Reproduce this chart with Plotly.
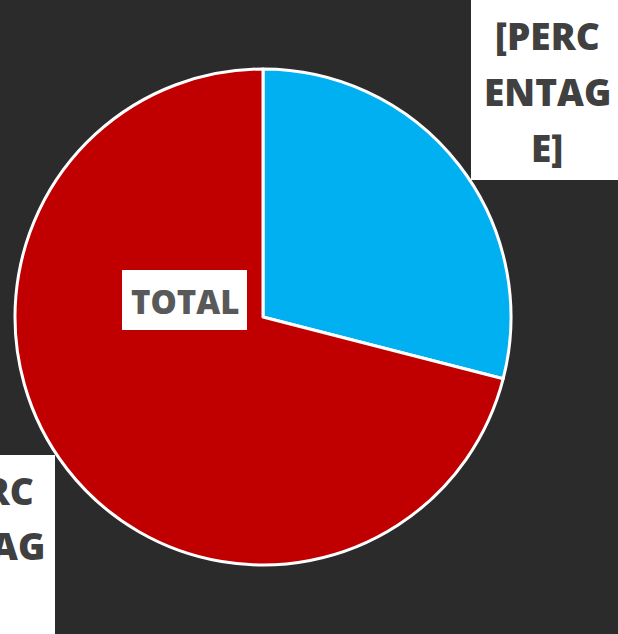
import plotly.graph_objects as go

W, H = 618, 634

categories = ["Blue", "Red"]
values = [29, 71]
colors = ["#00B0F0", "#C00000"]
label_lines = ["[PERC", "ENTAG", "E]"]
center_label = "TOTAL"

def px_x(x):
    return x / W

def px_y(y):
    return 1 - y / H

fig = go.Figure()
fig.add_trace(go.Pie(
    labels=categories,
    values=values,
    sort=False,
    direction="clockwise",
    rotation=0,
    textinfo="none",
    hoverinfo="label+percent",
    marker=dict(colors=colors, line=dict(color="white", width=3)),
    domain=dict(x=[px_x(15), px_x(511)], y=[px_y(565), px_y(69)]),
    showlegend=False,
))

shapes = []
annotations = []

# white label boxes (pixel coords)
boxes = [
    (471, 0, 621, 180, 547, [36, 91, 147]),
    (-95, 455, 55, 635, -19, [490, 545, 600]),
]
for x0, y0, x1, y1, cx, ys in boxes:
    shapes.append(dict(type="rect", xref="paper", yref="paper",
                       x0=px_x(x0), x1=px_x(x1), y0=px_y(y1), y1=px_y(y0),
                       fillcolor="white", line=dict(width=0), layer="above"))
    for txt, yy in zip(label_lines, ys):
        annotations.append(dict(text=txt, x=px_x(cx), y=px_y(yy), xref="paper", yref="paper",
                                xanchor="center", yanchor="middle", showarrow=False,
                                font=dict(family="Open Sans", size=37, color="#404040",
                                          weight=800)))

# TOTAL box
shapes.append(dict(type="rect", xref="paper", yref="paper",
                   x0=px_x(122), x1=px_x(247), y0=px_y(330), y1=px_y(270),
                   fillcolor="white", line=dict(width=0), layer="above"))
annotations.append(dict(text=center_label, x=px_x(185), y=px_y(302), xref="paper", yref="paper",
                        xanchor="center", yanchor="middle", showarrow=False,
                        font=dict(family="Open Sans", size=33, color="#595959", weight=800)))

fig.update_layout(
    width=W, height=H,
    margin=dict(l=0, r=0, t=0, b=0),
    paper_bgcolor="#2b2b2b",
    plot_bgcolor="#2b2b2b",
    shapes=shapes,
    annotations=annotations,
)

fig.write_html(
    "out.html",
    config={"displayModeBar": False},
    post_script="document.body.style.margin='0';document.body.style.overflow='hidden';"
                "document.documentElement.style.background='#2b2b2b';",
)
